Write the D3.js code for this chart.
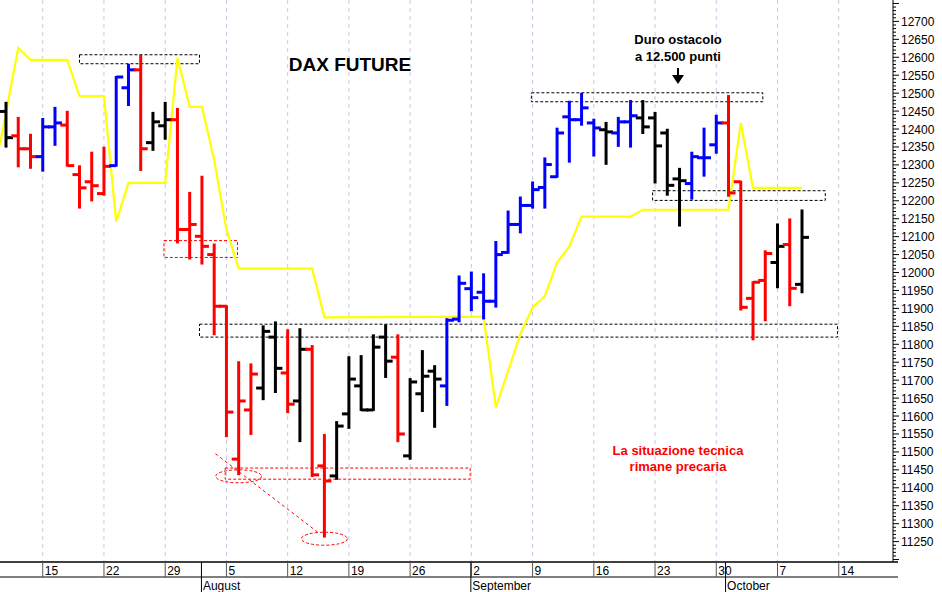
<!DOCTYPE html>
<html><head><meta charset="utf-8">
<script src="https://cdn.jsdelivr.net/npm/d3@7"></script>
<style>body{margin:0;background:#fff}text{font-family:"Liberation Sans",Arial,sans-serif}</style>
</head><body><svg id="c" width="942" height="592"></svg>
<script>
// daily bars 10 Jul - 9 Oct 2019, [open, high, low, close]
var ohlc = [
[12449,12473,12351,12376],[12381,12431,12296,12345],[12345,12384,12292,12323],[12323,12428,12284,12406],
[12406,12459,12356,12417],[12411,12448,12298,12298],[12273,12296,12181,12236],[12253,12334,12201,12242],
[12220,12348,12217,12296],[12298,12545,12298,12545],[12515,12579,12467,12565],[12565,12604,12286,12345],
[12362,12445,12342,12420],[12409,12473,12373,12426],[12426,12456,12084,12120],[12120,12222,12039,12134],
[12101,12267,12025,12073],[12050,12078,11828,11906],[11906,11906,11544,11611],[11480,11750,11438,11642],
[11617,11744,11550,11717],[11678,11850,11647,11836],[11820,11861,11667,11733],[11720,11839,11611,11633],
[11642,11842,11530,11786],[11786,11795,11433,11436],[11461,11547,11264,11419],[11433,11583,11425,11572],
[11606,11764,11567,11703],[11684,11767,11617,11617],[11617,11825,11617,11792],[11820,11853,11709,11753],
[11764,11825,11530,11550],[11489,11703,11481,11695],[11662,11781,11614,11711],[11725,11739,11570,11703],
[11684,11870,11631,11867],[11870,11989,11864,11970],[11955,12000,11895,11930],[11945,11995,11872,11920],
[11920,12085,11905,12050],[12056,12170,12055,12134],[12134,12209,12112,12187],[12187,12251,12181,12231],
[12237,12318,12181,12301],[12267,12401,12267,12389],[12434,12476,12309,12426],[12426,12498,12412,12459],
[12417,12426,12326,12403],[12398,12417,12303,12392],[12389,12431,12353,12420],[12420,12478,12351,12437],
[12431,12478,12389,12406],[12431,12445,12251,12353],[12389,12398,12217,12243],[12261,12289,12131,12256],
[12248,12334,12206,12323],[12320,12401,12270,12320],[12356,12437,12334,12417],[12417,12492,12214,12222],
[12253,12253,11897,11903],[11928,11973,11814,11973],[11978,12059,11867,12053],[12028,12134,11959,12073],
[12078,12148,11909,11956],[11967,12173,11945,12098]
];
// colour of each bar: k black, r red, b blue
var barColors = ["k","r","r","b","b","r","r","r","r","b","b","r","k","k","r","r","r","r","r","r","r","k","k","r","k","r","r","k","k","k","k","k","r","k","k","k","b","b","b","b","b","b","b","b","b","b","b","b","b","k","b","b","k","k","k","k","b","b","b","r","r","r","r","k","r","k"];
var stopIdx = [-0.5,1,2,5,6,8,9,10,13,14,15,16,17,18,19,25,26,39,40,41,42,43,44,45,46,47,51,52,59,60,61,65];
var stopVal = [12356,12626,12593,12593,12492,12492,12142,12250,12250,12598,12462,12462,12314,12120,12011,12011,11875,11877,11624,11725,11828,11903,11934,12028,12073,12156,12156,12175,12175,12417,12236,12236];
var weekIdx = [3,8,13,18,23,28,33,38,43,48,53,58,63,68];
var weekLabels = ["15","22","29","5","12","19","26","2","9","16","23","30","7","14"];
var monthIdx = [16,38,58.8];
var monthLabels = ["August","September","October"];
// annotation boxes [i0, i1, vTop, vBottom, colour]
var boxes = [[6,15.8,12607,12582,"#000"],[42.9,61.8,12501,12476,"#000"],[52.8,66.9,12228,12201,"#000"],
  [15.8,67.9,11856,11820,"#000"],[12.9,18.9,12089,12042,"#f00"],[17.9,37.9,11455,11424,"#f00"]];

var svg = d3.select("#c");
var W = 893, H = 562;
var x = d3.scaleLinear().domain([0, 65]).range([6, 802]);
var y = d3.scaleLinear().domain([12700, 11250]).range([21.4, 541.6]);
var col = {k:"#000", r:"#f00", b:"#00f"};

// week grid
svg.append("g").selectAll("line").data(weekIdx).join("line")
  .attr("x1", d => x(d)).attr("x2", d => x(d)).attr("y1", 0).attr("y2", H)
  .attr("stroke", "#c8c8e6").attr("stroke-dasharray", "4,4");

// boxes
svg.append("g").selectAll("rect").data(boxes).join("rect")
  .attr("x", d => x(d[0])).attr("width", d => x(d[1]) - x(d[0]))
  .attr("y", d => y(d[2])).attr("height", d => y(d[3]) - y(d[2]))
  .attr("fill", "none").attr("stroke", d => d[4]).attr("stroke-dasharray", "3,2");
svg.append("g").selectAll("ellipse").data([[19, 11432], [26, 11258]]).join("ellipse")
  .attr("cx", d => x(d[0])).attr("cy", d => y(d[1])).attr("rx", 23).attr("ry", 6.5)
  .attr("fill", "none").attr("stroke", "#f00").attr("stroke-dasharray", "3,2");
svg.append("line").attr("x1", x(17.1)).attr("y1", y(11495)).attr("x2", x(25.5)).attr("y2", y(11275))
  .attr("stroke", "#f00").attr("stroke-dasharray", "3,3");

// yellow stop line
svg.append("path").datum(d3.zip(stopIdx, stopVal))
  .attr("d", d3.line().x(d => x(d[0])).y(d => y(d[1])))
  .attr("fill", "none").attr("stroke", "#ffff00").attr("stroke-width", 2.2);

// bars
var g = svg.append("g").selectAll("g").data(ohlc).join("g")
  .attr("stroke", (d, i) => col[barColors[i]]).attr("stroke-width", 3);
g.append("line").attr("x1", (d, i) => x(i)).attr("x2", (d, i) => x(i))
  .attr("y1", d => y(d[1]) - 1).attr("y2", d => y(d[2]) + 1);
g.append("line").attr("x1", (d, i) => x(i) - 7).attr("x2", (d, i) => x(i))
  .attr("y1", d => y(d[0])).attr("y2", d => y(d[0]));
g.append("line").attr("x1", (d, i) => x(i)).attr("x2", (d, i) => x(i) + 7)
  .attr("y1", d => y(d[3])).attr("y2", d => y(d[3]));

// right axis
var ax = svg.append("g").attr("transform", "translate(" + W + ",0)");
ax.append("line").attr("y1", 0).attr("y2", H).attr("stroke", "#000");
ax.selectAll("line.m").data(d3.range(11200, 12760, 10)).join("line").attr("class", "m")
  .attr("x1", 0).attr("x2", d => d % 50 ? 3 : 6).attr("y1", d => y(d)).attr("y2", d => y(d)).attr("stroke", "#000");
ax.selectAll("text").data(d3.range(11250, 12701, 50)).join("text")
  .attr("x", 8).attr("y", d => y(d) + 4.5).attr("font-size", 12).text(d => d);

// bottom date axis
var bx = svg.append("g");
bx.append("line").attr("x1", 0).attr("x2", 898).attr("y1", H).attr("y2", H).attr("stroke", "#000").attr("stroke-width", 1.5);
bx.append("line").attr("x1", 0).attr("x2", 898).attr("y1", 577).attr("y2", 577).attr("stroke", "#000");
bx.selectAll("line.w").data(weekIdx).join("line").attr("class", "w")
  .attr("x1", d => x(d)).attr("x2", d => x(d)).attr("y1", H).attr("y2", 577).attr("stroke", "#555");
bx.selectAll("text.w").data(weekIdx).join("text").attr("class", "w")
  .attr("x", d => x(d) + 2).attr("y", 575).attr("font-size", 12).text((d, i) => weekLabels[i]);
bx.selectAll("line.mo").data(monthIdx).join("line").attr("class", "mo")
  .attr("x1", d => x(d) - 0.5).attr("x2", d => x(d) - 0.5).attr("y1", H).attr("y2", 592).attr("stroke", "#000");
bx.selectAll("text.mo").data(monthIdx).join("text").attr("class", "mo")
  .attr("x", d => x(d) + 1).attr("y", 590).attr("font-size", 12).text((d, i) => monthLabels[i]);

// titles and notes
svg.append("text").attr("x", 350).attr("y", 71).attr("text-anchor", "middle")
  .attr("font-size", 19).attr("font-weight", "bold").text("DAX FUTURE");
svg.append("text").attr("x", 678).attr("y", 44).attr("text-anchor", "middle")
  .attr("font-size", 13).attr("font-weight", "bold").text("Duro ostacolo");
svg.append("text").attr("x", 678).attr("y", 61).attr("text-anchor", "middle")
  .attr("font-size", 13).attr("font-weight", "bold").text("a 12.500 punti");
svg.append("line").attr("x1", 678).attr("x2", 678).attr("y1", 68).attr("y2", 78).attr("stroke", "#000").attr("stroke-width", 2);
svg.append("path").attr("d", "M672,75L684,75L678,84Z").attr("fill", "#000");
svg.append("text").attr("x", 678).attr("y", 455).attr("text-anchor", "middle").attr("fill", "#f00")
  .attr("font-size", 13).attr("font-weight", "bold").text("La situazione tecnica");
svg.append("text").attr("x", 678).attr("y", 471).attr("text-anchor", "middle").attr("fill", "#f00")
  .attr("font-size", 13).attr("font-weight", "bold").text("rimane precaria");
</script></body></html>
